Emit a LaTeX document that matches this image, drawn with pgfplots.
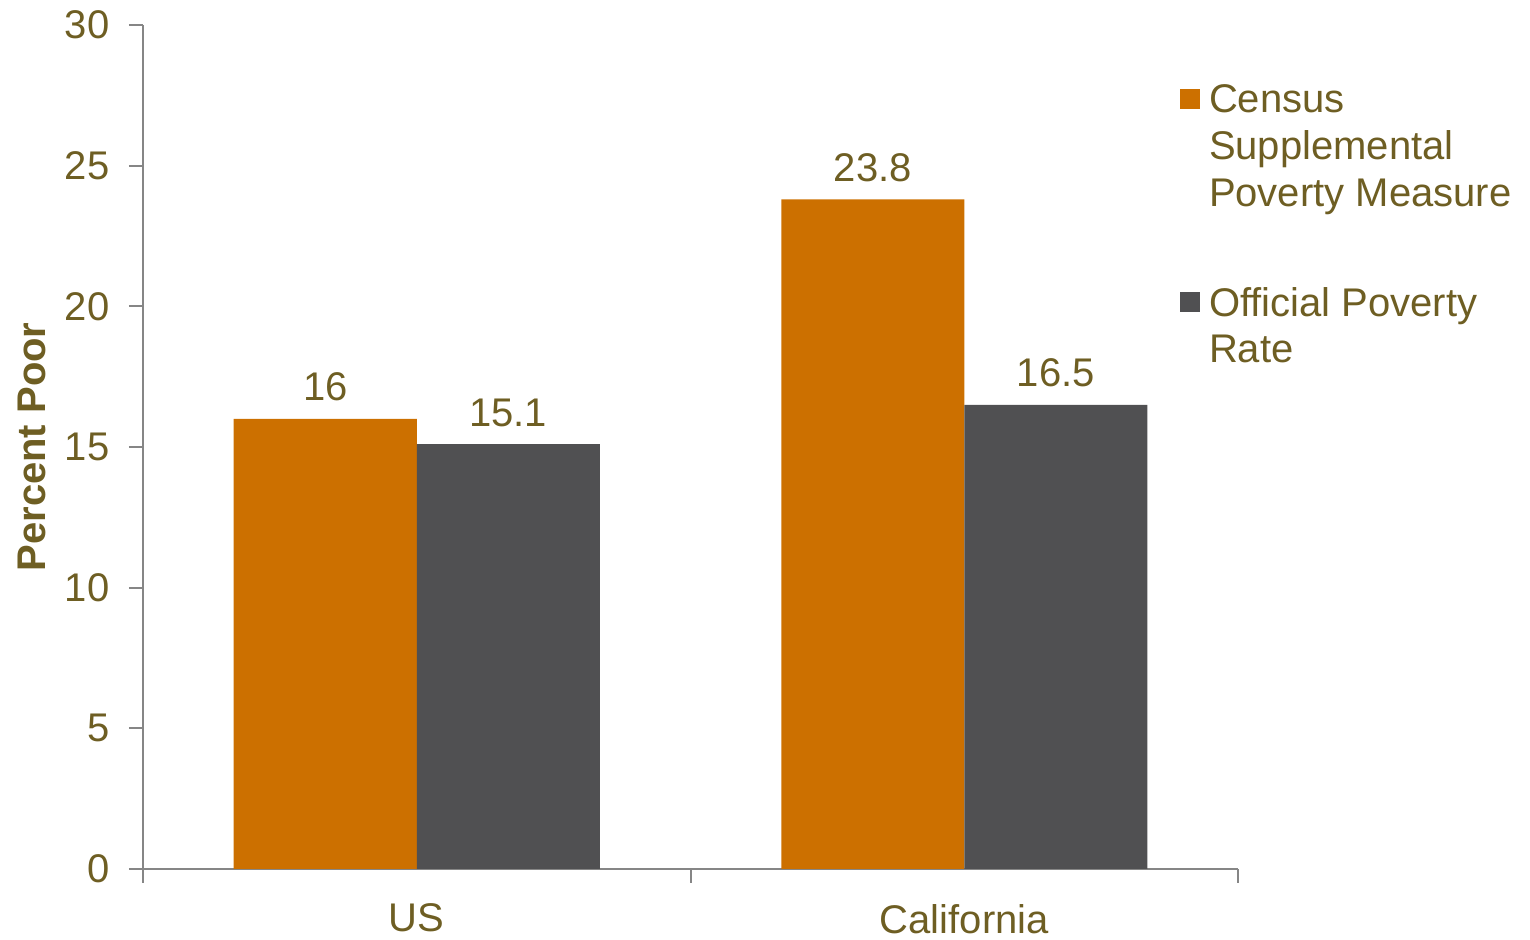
\documentclass[border=0pt]{standalone}
\usepackage{pgfplots}
\pgfplotsset{compat=1.18}
\usepackage{fontspec}
\setmainfont{Liberation Sans}
\definecolor{txt}{RGB}{110,94,35}
\definecolor{csp}{RGB}{204,112,0}
\definecolor{opr}{RGB}{80,80,82}
\definecolor{axg}{RGB}{134,134,134}
\newcommand{\f}{\fontsize{20}{23.3}\selectfont}
\begin{document}
\begin{tikzpicture}
\begin{axis}[
  name=ax,
  scale only axis, width=547.5pt, height=422pt,
  ybar=0pt, bar width=91.5pt,
  xmin=-0.5, xmax=1.5, ymin=0, ymax=30,
  xtick={-0.5,0.5,1.5}, xticklabels={},
  extra x ticks={0,1}, extra x tick labels={US,California},
  extra x tick style={major tick length=0pt},
  ytick={0,5,...,30},
  major tick length=7pt,
  tick align=outside,
  axis lines*=left,
  axis line style={draw=axg, line width=1pt},
  every tick/.style={draw=axg, line width=1pt},
  /pgf/number format/assume math mode=true,
  tick label style={font=\f, color=txt},
  yticklabel style={xshift=-6.3pt},
  xticklabel style={yshift=-14pt},
  ylabel={Percent Poor},
  ylabel style={font=\f\bfseries, color=txt, at={(axis description cs:-0.1014,0.5)}, anchor=center, rotate=0},
  nodes near coords,
  every node near coord/.append style={font=\f, color=txt, yshift=5.3pt},
  legend cell align=left,
  legend style={at={(rel axis cs:1,1)}, anchor=north west, xshift=-29pt, yshift=-28pt,
    draw=none, fill=none, inner sep=0pt, outer sep=0pt, font=\f, text=txt,
    row sep=35pt, column sep=2.5pt,
    cells={anchor=base west, align=left, inner sep=0pt}},
]
\addplot[fill=csp, draw=none,
  legend image code/.code={\fill[csp] (0pt,48.6pt) rectangle (10pt,58.6pt);}]
  coordinates {(0,16) (1,23.8)};
\addlegendentry{Census\\Supplemental\\Poverty Measure}
\addplot[fill=opr, draw=none,
  legend image code/.code={\fill[opr] (0pt,25.3pt) rectangle (10pt,35.3pt);}]
  coordinates {(0,15.1) (1,16.5)};
\addlegendentry{Official Poverty\\Rate}
\end{axis}
\pgfresetboundingbox
\path (ax.south west) ++(-71.5pt,-35.5pt) rectangle ++(765pt,470pt);
\end{tikzpicture}
\end{document}
